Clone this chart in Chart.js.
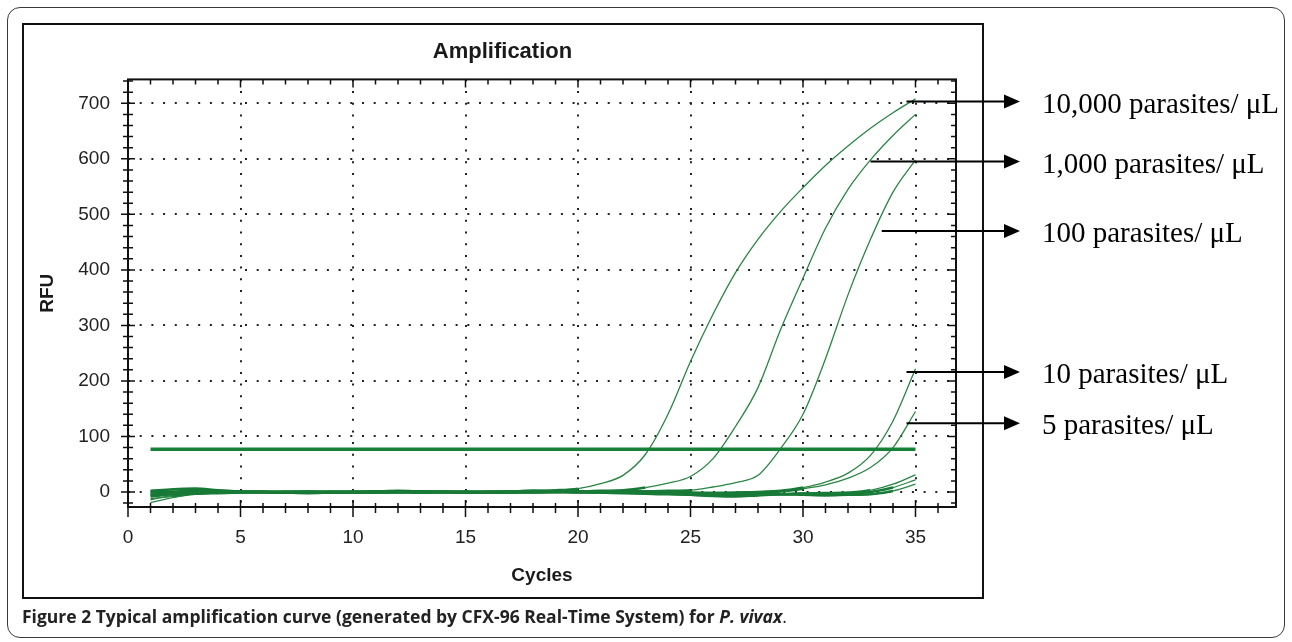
<!DOCTYPE html>
<html>
<head>
<meta charset="utf-8">
<title>Amplification</title>
<script src="https://cdn.jsdelivr.net/npm/chart.js@4"></script>
<style>
  html, body { margin: 0; padding: 0; background: #fff; }
  #page { position: relative; width: 1292px; height: 642px; overflow: hidden; }
  #outer { position: absolute; left: 7px; top: 7px; width: 1278px; height: 631px; box-sizing: border-box;
           border: 1.5px solid #3a3a3a; border-radius: 13px; }
  #inner { position: absolute; left: 22px; top: 23px; width: 962px; height: 576px; box-sizing: border-box;
           border: 2px solid #111; }
  #chart { position: absolute; left: 0; top: 0; }
  .lbl { position: absolute; left: 1042px; line-height: 0; white-space: nowrap; color: #000;
         font-family: "Liberation Serif", "Times New Roman", serif; font-size: 29px; }
  #caption { position: absolute; left: 22px; top: 616px; line-height: 0; white-space: nowrap; color: #222;
             font-family: "Open Sans", sans-serif; font-size: 17.5px; font-weight: bold; }
</style>
</head>
<body>
<div id="page">
  <div id="outer"></div>
  <div id="inner"></div>
  <canvas id="chart" width="1292" height="642"></canvas>
  <div id="caption">Figure 2 Typical amplification curve (generated by CFX-96 Real-Time System) for <i>P. vivax</i><span style="font-weight:normal">.</span></div>
</div>
<script>
// cycle numbers read by the instrument
const cycles = [1, 2, 3, 4, 5, 6, 7, 8, 9, 10, 11, 12, 13, 14, 15, 16, 17, 18, 19, 20,
  21, 22, 23, 24, 25, 26, 27, 28, 29, 30, 31, 32, 33, 34, 35]

// RFU per cycle, one list per dilution
const rfu10000 = [-8, -4, -1, 0, -1, 0, 0, 1, 0, 0, 1, 0, -1, 0, 0, 1, 1, 2, 3, 6,
  15, 30, 68, 140, 235, 320, 395, 455, 505, 548, 588, 623, 655, 683, 708]
const rfu1000 = [-14, -6, -2, -1, 0, 1, 0, 0, -1, 0, 1, 1, 0, -1, 0, 0, 1, 0, 1, 1,
  2, 3, 8, 16, 28, 60, 118, 188, 292, 385, 475, 545, 598, 642, 680]
const rfu100 = [-19, -10, -3, -1, 0, 0, -1, -1, 0, 1, 0, -1, -1, 0, 1, 0, -1, 0, 0, -1,
  -1, 0, 1, 2, 3, 9, 17, 30, 78, 140, 240, 355, 455, 540, 598]
const rfu10 = [-3, -2, 0, 1, 1, 0, -1, 0, 1, 0, -1, 0, 0, 1, 0, -1, 0, 1, 0, 0,
  -1, -2, -3, -4, -3, -2, -1, 0, 2, 8, 18, 34, 66, 128, 222]
const rfu5 = [0, 1, 2, 1, 0, -1, 0, 1, 0, -1, 0, 1, 0, 0, -1, 0, 0, -1, 0, 1,
  1, 0, -2, -3, -5, -6, -4, -1, 1, 6, 13, 25, 44, 80, 145]

// wells that never really come up
const rfuNegA = [-12, -8, -3, -2, -1, 0, 1, 0, -1, -1, 0, 0, 1, 0, -1, -1, 0, 0, 1, 0,
  0, -1, -2, -3, -5, -7, -8, -6, -4, -3, -2, -1, 3, 14, 31]
const rfuNegB = [-5, -2, 1, 2, 1, 0, -1, -2, -1, 0, 1, 2, 1, 0, -1, 0, 1, 2, 1, 0,
  1, 2, 1, 0, -1, -2, -3, -4, -4, -3, -4, -3, 0, 8, 22]
const rfuNegC = [2, 5, 6, 3, 1, 0, -1, -1, 0, 0, -1, 0, 1, 1, 0, 0, -1, 0, 0, 1,
  0, 0, 1, 0, -2, -4, -5, -5, -4, -5, -6, -5, -4, 2, 14]

const thresholdCycles = [1, 35]
const thresholdRfu = 77

// arrows on the right: where each one leaves the curves, and its text
const labelTexts = ['10,000 parasites/ μL', '1,000 parasites/ μL', '100 parasites/ μL',
  '10 parasites/ μL', '5 parasites/ μL']
const arrowCycles = [34.6, 33.0, 33.5, 34.6, 34.6]
const arrowRfu = [703, 595, 470, 216, 124]

const curveColor = '#2a8645'
const baseColor = '#177a37'
const font = 'Liberation Sans'

function toPoints(values) {
  return values.map((v, i) => ({ x: cycles[i], y: v }))
}

// the flat part of every trace piles up into a thick band
function nearBase(ctx) {
  return Math.abs(ctx.p0.parsed.y) < 9 && Math.abs(ctx.p1.parsed.y) < 9
}

function curve(values) {
  return {
    data: toPoints(values),
    borderColor: curveColor,
    borderWidth: 1.3,
    pointRadius: 0,
    cubicInterpolationMode: 'monotone',
    fill: false,
    segment: {
      borderWidth: ctx => nearBase(ctx) ? 2.6 : 1.3,
      borderColor: ctx => nearBase(ctx) ? baseColor : curveColor
    }
  }
}

const datasets = [
  {
    data: thresholdCycles.map(c => ({ x: c, y: thresholdRfu })),
    borderColor: '#168039',
    borderWidth: 3.5,
    pointRadius: 0
  },
  curve(rfu10000),
  curve(rfu1000),
  curve(rfu100),
  curve(rfu10),
  curve(rfu5),
  curve(rfuNegA),
  curve(rfuNegB),
  curve(rfuNegC)
]

// frame, crossing tick marks and the arrows to the labels
const frameAndArrows = {
  id: 'frameAndArrows',
  afterDraw(chart) {
    const { ctx, chartArea: a, scales: { x, y } } = chart
    ctx.save()
    ctx.strokeStyle = '#111'
    ctx.lineWidth = 2
    ctx.strokeRect(a.left, a.top, a.right - a.left, a.bottom - a.top)

    ctx.lineWidth = 1.5
    ctx.beginPath()
    for (let c = 0; c <= x.max; c++) {
      const px = x.getPixelForValue(c)
      const major = c % 5 === 0
      ctx.moveTo(px, a.bottom - (major ? 7 : 4))
      ctx.lineTo(px, a.bottom + (major ? 10 : 6))
      ctx.moveTo(px, a.top)
      ctx.lineTo(px, a.top + (major ? 8 : 5))
    }
    for (let v = -20; v <= y.max; v += 20) {
      const py = y.getPixelForValue(v)
      const major = v % 100 === 0
      ctx.moveTo(a.left - (major ? 7 : 5), py)
      ctx.lineTo(a.left + (major ? 7 : 5), py)
      ctx.moveTo(a.right, py)
      ctx.lineTo(a.right - (major ? 8 : 5), py)
    }
    ctx.stroke()

    ctx.strokeStyle = '#000'
    ctx.fillStyle = '#000'
    ctx.lineWidth = 2
    arrowCycles.forEach((c, i) => {
      const sx = x.getPixelForValue(c)
      const sy = y.getPixelForValue(arrowRfu[i])
      ctx.beginPath()
      ctx.moveTo(sx, sy)
      ctx.lineTo(1006, sy)
      ctx.stroke()
      ctx.beginPath()
      ctx.moveTo(1004, sy - 7)
      ctx.lineTo(1020, sy)
      ctx.lineTo(1004, sy + 7)
      ctx.closePath()
      ctx.fill()
    })
    ctx.restore()
  }
}

const tickFont = { family: font, size: 19 }
const titleFont = { family: font, size: 19, weight: 'bold' }

const chart = new Chart(document.getElementById('chart').getContext('2d'), {
  type: 'line',
  data: { datasets: datasets },
  options: {
    responsive: false,
    animation: false,
    layout: { padding: { left: 22, right: 309, top: 23, bottom: 44 } },
    plugins: {
      legend: { display: false },
      tooltip: { enabled: false },
      title: {
        display: true,
        text: 'Amplification',
        color: '#1a1a1a',
        font: { family: font, size: 22, weight: 'bold' },
        padding: { top: 16, bottom: 14 }
      }
    },
    scales: {
      x: {
        type: 'linear',
        min: 0,
        max: 36.8,
        afterFit(s) { s.height = 91 },
        ticks: { stepSize: 5, includeBounds: false, padding: 19, color: '#222', font: tickFont },
        grid: { drawTicks: false, color: '#222', lineWidth: 2 },
        border: { display: false, dash: [2, 9.7] },
        title: { display: true, text: 'Cycles', color: '#1a1a1a', font: titleFont, padding: { top: 0, bottom: 11 } }
      },
      y: {
        min: -27,
        max: 743,
        afterFit(s) { s.width = 106 },
        ticks: { stepSize: 100, includeBounds: false, padding: 18, color: '#222', font: tickFont },
        grid: { drawTicks: false, color: '#222', lineWidth: 2 },
        border: { display: false, dash: [2, 9.7] },
        title: { display: true, text: 'RFU', color: '#1a1a1a', font: titleFont, padding: { top: 14, bottom: 0 } }
      },
      y2: {
        position: 'right',
        min: -27,
        max: 743,
        afterFit(s) { s.width = 27 },
        ticks: { display: false },
        grid: { display: false },
        border: { display: false }
      }
    }
  },
  plugins: [frameAndArrows]
})

// the labels sit level with their arrows
const page = document.getElementById('page')
labelTexts.forEach((t, i) => {
  const el = document.createElement('div')
  el.className = 'lbl'
  el.textContent = t
  el.style.top = (chart.scales.y.getPixelForValue(arrowRfu[i]) + 1) + 'px'
  page.appendChild(el)
})
</script>
</body>
</html>
